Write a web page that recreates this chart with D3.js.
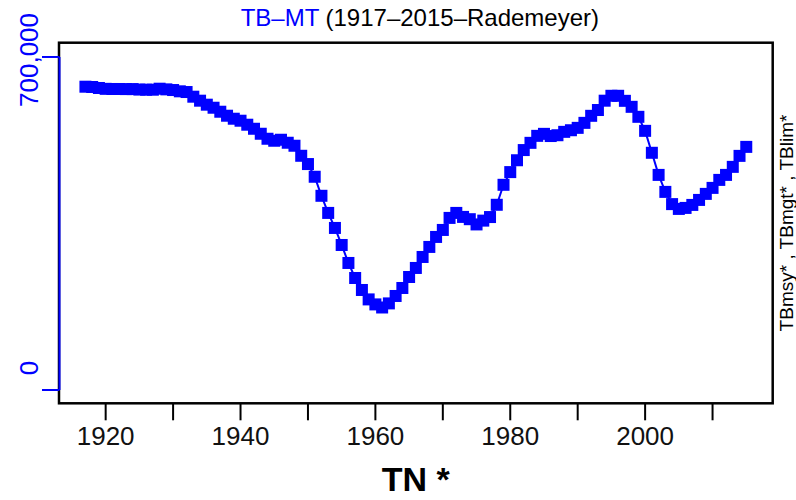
<!DOCTYPE html>
<meta charset="utf-8">
<script src="https://d3js.org/d3.v7.min.js"></script>
<style>
body { margin: 0; background: white; }
text { font-family: "Liberation Sans", Arial, sans-serif; }
</style>
<div id="chart"></div>
<script>
// biomass series
var years = d3.range(1917, 2016);
var biomass = [
  637500, 636900, 634800, 633000, 632700, 632700, 632500, 632500, 631500, 631200,
  631200, 633300, 631900, 630500, 627800, 626300, 616500, 608100, 599700, 593300,
  584900, 576500, 570200, 566000, 557600, 549100, 538600, 528100, 523900, 526000,
  519700, 513400, 492300, 474900, 448200, 408200, 372200, 340600, 304800, 267000,
  235400, 210200, 190400, 179900, 173400, 182000, 197600, 214400, 237500, 256500,
  279600, 300700, 321700, 336400, 361700, 372200, 363800, 359000, 348000, 356000,
  363500, 389300, 431300, 458000, 482900, 504300, 519500, 534200, 538400, 533800,
  535500, 542600, 546000, 551000, 561500, 576300, 588500, 608100, 618400, 618400,
  607800, 595200, 574200, 544700, 498600, 452100, 416400, 390700, 380600, 382700,
  389000, 399500, 412200, 424800, 441600, 452100, 469000, 492100, 511000
];
var xTicks = d3.range(1920, 2011, 10);
var xLabels = [1920, 1940, 1960, 1980, 2000];
var yTicks = [0, 700000];

var W = 796, H = 500;
var box = {left: 59, right: 772.7, top: 42.7, bottom: 403.3};

var svg = d3.select("#chart").append("svg").attr("width", W).attr("height", H);

// R style 4% padding on both axes
var x = d3.scaleLinear().domain([1913.08, 2018.92]).range([box.left, box.right]);
var y = d3.scaleLinear().domain([-28000, 730000]).range([box.bottom, box.top]);

// bottom axis ticks
svg.append("g").selectAll("line").data(xTicks).enter().append("line")
    .attr("x1", function(d) { return x(d); }).attr("x2", function(d) { return x(d); })
    .attr("y1", box.bottom).attr("y2", box.bottom + 17)
    .attr("stroke", "black").attr("stroke-width", 2);
svg.append("g").selectAll("text").data(xLabels).enter().append("text")
    .attr("x", function(d) { return x(d); }).attr("y", 445)
    .attr("text-anchor", "middle").attr("font-size", 26).attr("fill", "#111")
    .text(function(d) { return d; });

// plot box
svg.append("rect").attr("x", box.left).attr("y", box.top)
    .attr("width", box.right - box.left).attr("height", box.bottom - box.top)
    .attr("fill", "none").attr("stroke", "black").attr("stroke-width", 2.5);

// left axis in blue
var yAxis = svg.append("g");
yAxis.append("line").attr("x1", box.left + 0.5).attr("x2", box.left + 0.5)
    .attr("y1", y(0)).attr("y2", y(700000))
    .attr("stroke", "#0000ff").attr("stroke-width", 2);
yAxis.selectAll(".tk").data(yTicks).enter().append("line").attr("class", "tk")
    .attr("x1", box.left - 17).attr("x2", box.left + 0.5)
    .attr("y1", function(d) { return y(d); }).attr("y2", function(d) { return y(d); })
    .attr("stroke", "#0000ff").attr("stroke-width", 2);
var nudge = {0: -22, 700000: 3};
yAxis.selectAll(".lb").data(yTicks).enter().append("text").attr("class", "lb")
    .attr("transform", function(d) { return "translate(37.5," + (y(d) + nudge[d]) + ") rotate(-90)"; })
    .attr("text-anchor", "middle").attr("font-size", 26).attr("fill", "#0000ff")
    .text(function(d) { return d3.format(",")(d); });

// series line and square markers
svg.append("path").datum(biomass)
    .attr("d", d3.line().x(function(d, i) { return x(years[i]); }).y(function(d) { return y(d); }))
    .attr("fill", "none").attr("stroke", "#0000ff").attr("stroke-width", 2);
var s = 12;
svg.append("g").selectAll("rect").data(biomass).enter().append("rect")
    .attr("x", function(d, i) { return x(years[i]) - s / 2; })
    .attr("y", function(d) { return y(d) - s / 2; })
    .attr("width", s).attr("height", s).attr("fill", "#0000ff");

// title
var title = svg.append("text").attr("x", (box.left + box.right) / 2 + 4).attr("y", 26)
    .attr("text-anchor", "middle").attr("font-size", 24);
title.append("tspan").attr("fill", "#0000ff").text("TB\u2013MT");
title.append("tspan").attr("fill", "black").text(" (1917\u20132015\u2013Rademeyer)");

// axis titles
svg.append("text").attr("x", (box.left + box.right) / 2).attr("y", 491)
    .attr("text-anchor", "middle").attr("font-size", 34).attr("font-weight", "bold")
    .text("TN *");
svg.append("text").attr("transform", "translate(792.5," + (box.top + box.bottom) / 2 + ") rotate(-90)")
    .attr("text-anchor", "middle").attr("font-size", 19)
    .text("TBmsy* , TBmgt* , TBlim*");
</script>
